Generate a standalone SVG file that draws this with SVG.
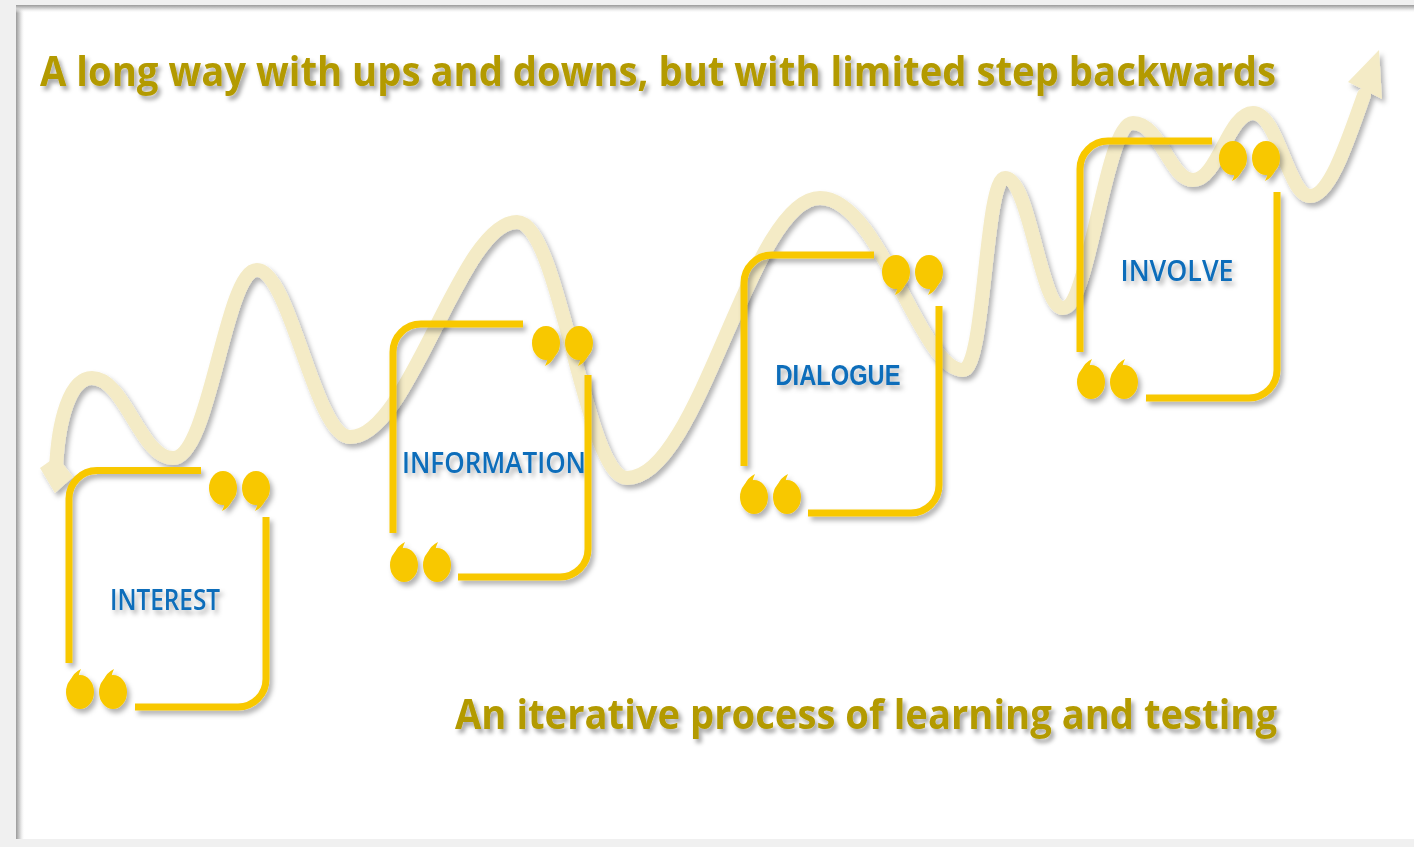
<svg xmlns="http://www.w3.org/2000/svg" width="1414" height="847" viewBox="0 0 1414 847">
  <defs>
    <style>
      .frame { fill: none; stroke: #f8c800; stroke-width: 7; }
      .quote { fill: #f8c800; }
      .label { font-family: "Open Sans", "Liberation Sans", sans-serif; font-weight: 600; font-size: 29px; fill: #0b6dba; }
      .title { font-family: "Open Sans", "Liberation Sans", sans-serif; font-weight: 700; font-size: 42px; fill: #b39a00; }
      .wave { fill: none; stroke: #f4ebc6; stroke-width: 14; stroke-linecap: round; }
    </style>
    <filter id="sh" x="-10%" y="-10%" width="130%" height="130%">
      <feDropShadow dx="3" dy="4" stdDeviation="2.5" flood-color="#000" flood-opacity="0.3"/>
    </filter>
    <filter id="tsh" filterUnits="userSpaceOnUse" x="0" y="0" width="1414" height="847">
      <feDropShadow dx="3" dy="4" stdDeviation="2" flood-color="#000" flood-opacity="0.35"/>
    </filter>
    <linearGradient id="gl" x1="0" y1="0" x2="1" y2="0">
      <stop offset="0" stop-color="#9a9a9a"/>
      <stop offset="0.4" stop-color="#cfcfcf"/>
      <stop offset="1" stop-color="#ffffff" stop-opacity="0"/>
    </linearGradient>
    <linearGradient id="gt" x1="0" y1="0" x2="0" y2="1">
      <stop offset="0" stop-color="#9a9a9a"/>
      <stop offset="0.4" stop-color="#cfcfcf"/>
      <stop offset="1" stop-color="#ffffff" stop-opacity="0"/>
    </linearGradient>
    <g id="qpair">
      <g id="q1">
        <ellipse cx="0" cy="0" rx="14" ry="17"/>
        <path d="M 2 14 Q 1 19 -1 23 Q 6 20 10 11 Z"/>
      </g>
      <use href="#q1" x="33" y="0"/>
    </g>
  </defs>

  <rect x="0" y="0" width="1414" height="847" fill="#f0f0f0"/>
  <rect x="16" y="5" width="1398" height="834" fill="#ffffff"/>
  <rect x="16" y="5" width="9" height="834" fill="url(#gl)"/>
  <rect x="16" y="5" width="1398" height="8" fill="url(#gt)"/>

  <g id="texts">
    <text class="title" filter="url(#tsh)" x="40" y="86" textLength="1236" lengthAdjust="spacingAndGlyphs">A long way with ups and downs, but with limited step backwards</text>
    <text class="title" filter="url(#tsh)" x="455" y="729" textLength="822" lengthAdjust="spacingAndGlyphs">An iterative process of learning and testing</text>
  </g>

  <g id="connectors" filter="url(#sh)">
    <path class="wave" d="M 56 470 C 58 420, 70 378, 92 378 C 125 378, 140 458, 173 458 C 210 458, 225 270, 257 270 C 290 270, 315 437, 350 437 C 410 437, 460 222, 517 222 C 560 222, 585 478, 627 478 C 700 478, 750 198, 820 198 C 880 198, 920 370, 963 370 C 985 370, 985 178, 1005 178 C 1030 178, 1040 308, 1063 308 C 1090 308, 1105 123, 1133 123 C 1160 123, 1170 180, 1193 180 C 1218 180, 1228 113, 1253 113 C 1278 113, 1288 196, 1310 196 C 1330 196, 1348 140, 1364 95"/>
    <polygon points="1379,50 1348,82 1382,99" fill="#f4ebc6"/>
    <polygon points="40,468 57,456 73,477 55,493" fill="#f4ebc6"/>
  </g>

  <g id="interest" filter="url(#sh)">
    <path class="frame" d="M 201 470.5 H 97 A 28 28 0 0 0 69 498.5 V 663"/>
    <path class="frame" d="M 266 517 V 679 A 28 28 0 0 1 238 707 H 135"/>
    <use href="#qpair" class="quote" transform="translate(223,488)"/>
    <use href="#qpair" class="quote" transform="translate(113,692) rotate(180)"/>
    <text class="label" x="165" y="610" text-anchor="middle" textLength="110" lengthAdjust="spacingAndGlyphs">INTEREST</text>
  </g>

  <g id="information" filter="url(#sh)">
    <path class="frame" d="M 523 324 H 421 A 28 28 0 0 0 393 352 V 533"/>
    <path class="frame" d="M 588 375 V 549 A 28 28 0 0 1 560 577 H 458"/>
    <use href="#qpair" class="quote" transform="translate(546,343)"/>
    <use href="#qpair" class="quote" transform="translate(437,565) rotate(180)"/>
    <text class="label" x="494" y="473" text-anchor="middle" textLength="184" lengthAdjust="spacingAndGlyphs">INFORMATION</text>
  </g>

  <g id="dialogue" filter="url(#sh)">
    <path class="frame" d="M 874 255 H 772 A 28 28 0 0 0 744 283 V 466"/>
    <path class="frame" d="M 939 306 V 485 A 28 28 0 0 1 911 513 H 808"/>
    <use href="#qpair" class="quote" transform="translate(896,272)"/>
    <use href="#qpair" class="quote" transform="translate(787,497) rotate(180)"/>
    <text class="label" x="838" y="385" text-anchor="middle" textLength="125" lengthAdjust="spacingAndGlyphs" style="font-family:'Liberation Sans', Arial, sans-serif; font-weight:700">DIALOGUE</text>
  </g>

  <g id="involve" filter="url(#sh)">
    <path class="frame" d="M 1212 141 H 1108 A 28 28 0 0 0 1080 169 V 352"/>
    <path class="frame" d="M 1277 192 V 370 A 28 28 0 0 1 1249 398 H 1146"/>
    <use href="#qpair" class="quote" transform="translate(1233,158)"/>
    <use href="#qpair" class="quote" transform="translate(1124,382) rotate(180)"/>
    <text class="label" x="1177" y="281" text-anchor="middle" textLength="113" lengthAdjust="spacingAndGlyphs">INVOLVE</text>
  </g>
</svg>
